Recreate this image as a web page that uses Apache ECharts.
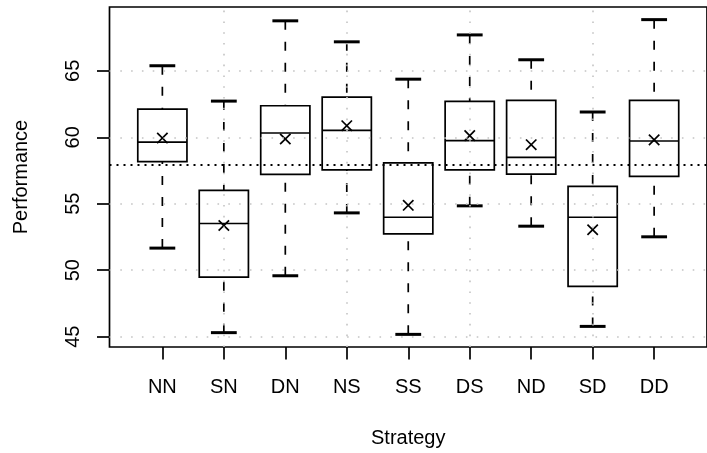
<!DOCTYPE html>
<html>
<head>
<meta charset="utf-8">
<script src="https://cdn.jsdelivr.net/npm/echarts@6/dist/echarts.min.js"></script>
<style>
  html, body { margin: 0; padding: 0; background: #ffffff; }
  #chart { width: 707px; height: 453px; }
</style>
</head>
<body>
<div id="chart"></div>
<script>
// Performance by strategy: five-number summaries plus group means
const categories = ['NN', 'SN', 'DN', 'NS', 'SS', 'DS', 'ND', 'SD', 'DD'];
const lowerWhisker = [51.66, 45.30, 49.58, 54.31, 45.17, 54.84, 53.31, 45.77, 52.51];
const lowerQuartile = [58.17, 49.48, 57.21, 57.54, 52.73, 57.54, 57.22, 48.78, 57.06];
const medians = [59.64, 53.51, 60.32, 60.52, 53.98, 59.74, 58.49, 53.98, 59.72];
const upperQuartile = [62.12, 56.01, 62.37, 63.02, 58.07, 62.70, 62.77, 56.31, 62.77];
const upperWhisker = [65.38, 62.72, 68.76, 67.18, 64.37, 67.70, 65.83, 61.90, 68.85];
const groupMeans = [59.94, 53.36, 59.87, 60.87, 54.88, 60.12, 59.44, 53.04, 59.80];
const overallMean = 57.94;

const yTicks = [45, 50, 55, 60, 65];
const xGridAt = [2, 4, 6, 8];
const xRange = [0.14, 9.86];
const yRange = [44.22, 69.80];

const positions = categories.map((_, i) => i + 1);
const boxData = positions.map((p, i) => [
  p, lowerWhisker[i], lowerQuartile[i], medians[i], upperQuartile[i], upperWhisker[i], groupMeans[i]
]);

const INK = '#000000';
const LW = 1.7;
const BOX_WIDTH = 0.8;
const STAPLE_WIDTH = 0.42;

function renderBox(params, api) {
  const x = api.value(0);
  const pLow = api.coord([x, api.value(1)]);
  const pQ1 = api.coord([x, api.value(2)]);
  const pMed = api.coord([x, api.value(3)]);
  const pQ3 = api.coord([x, api.value(4)]);
  const pHigh = api.coord([x, api.value(5)]);
  const pMean = api.coord([x, api.value(6)]);
  const halfBox = api.size([BOX_WIDTH, 0])[0] / 2;
  const halfStaple = api.size([STAPLE_WIDTH, 0])[0] / 2;
  const cx = pMed[0];
  const solid = { stroke: INK, lineWidth: LW, fill: null };
  const dashed = { stroke: INK, lineWidth: LW, lineDash: [9, 12], fill: null };
  const staple = { stroke: INK, lineWidth: 3, fill: null };
  const m = 5.2;
  return {
    type: 'group',
    children: [
      // whiskers run from the staple towards the box
      { type: 'line', shape: { x1: cx, y1: pHigh[1], x2: cx, y2: pQ3[1] }, style: dashed },
      { type: 'line', shape: { x1: cx, y1: pLow[1], x2: cx, y2: pQ1[1] }, style: dashed },
      { type: 'line', shape: { x1: cx - halfStaple, y1: pHigh[1], x2: cx + halfStaple, y2: pHigh[1] }, style: staple },
      { type: 'line', shape: { x1: cx - halfStaple, y1: pLow[1], x2: cx + halfStaple, y2: pLow[1] }, style: staple },
      { type: 'rect', shape: { x: cx - halfBox, y: pQ3[1], width: halfBox * 2, height: pQ1[1] - pQ3[1] }, style: solid },
      { type: 'line', shape: { x1: cx - halfBox, y1: pMed[1], x2: cx + halfBox, y2: pMed[1] }, style: solid },
      // group mean marked with a cross
      { type: 'line', shape: { x1: pMean[0] - m, y1: pMean[1] - m, x2: pMean[0] + m, y2: pMean[1] + m }, style: solid },
      { type: 'line', shape: { x1: pMean[0] - m, y1: pMean[1] + m, x2: pMean[0] + m, y2: pMean[1] - m }, style: solid }
    ]
  };
}

const chart = echarts.init(document.getElementById('chart'), null, { renderer: 'canvas' });

const textStyle = { fontFamily: 'Liberation Sans, Arial, sans-serif', fontSize: 20, color: INK };

chart.setOption({
  animation: false,
  backgroundColor: '#ffffff',
  grid: {
    left: 109.5,
    top: 7,
    width: 609.4,
    height: 340.7,
    show: true,
    borderColor: INK,
    borderWidth: LW,
    backgroundColor: 'transparent'
  },
  xAxis: {
    type: 'value',
    min: xRange[0],
    max: xRange[1],
    name: 'Strategy',
    nameLocation: 'middle',
    nameGap: 81,
    nameTextStyle: textStyle,
    axisLine: { show: false },
    splitLine: { show: false },
    axisTick: {
      show: true,
      customValues: positions,
      length: 12.5,
      lineStyle: { color: INK, width: LW }
    },
    axisLabel: {
      show: true,
      customValues: positions,
      margin: 30,
      formatter: (v) => categories[Math.round(v) - 1] || '',
      ...textStyle
    }
  },
  yAxis: {
    type: 'value',
    min: yRange[0],
    max: yRange[1],
    name: 'Performance',
    nameLocation: 'middle',
    nameGap: 78,
    nameTextStyle: textStyle,
    axisLine: { show: false },
    splitLine: { show: false },
    axisTick: {
      show: true,
      customValues: yTicks,
      length: 12.5,
      lineStyle: { color: INK, width: LW }
    },
    axisLabel: {
      show: true,
      customValues: yTicks,
      rotate: 90,
      margin: 26,
      ...textStyle
    }
  },
  series: [
    {
      // dotted reference grid
      type: 'line',
      data: [],
      silent: true,
      z: 1,
      markLine: {
        silent: true,
        symbol: ['none', 'none'],
        label: { show: false },
        lineStyle: { color: '#c4c4c4', width: 1.6, type: [1.6, 9.2] },
        data: yTicks.map(v => ({ yAxis: v })).concat(xGridAt.map(v => ({ xAxis: v })))
      }
    },
    {
      type: 'custom',
      renderItem: renderBox,
      data: boxData,
      encode: { x: 0, y: [1, 2, 3, 4, 5, 6] },
      z: 3,
      silent: true
    },
    {
      // overall mean across all groups
      type: 'line',
      data: [],
      silent: true,
      z: 4,
      markLine: {
        silent: true,
        symbol: ['none', 'none'],
        label: { show: false },
        lineStyle: { color: INK, width: 1.8, type: [2, 5] },
        data: [{ yAxis: overallMean }]
      }
    }
  ]
});
</script>
</body>
</html>
